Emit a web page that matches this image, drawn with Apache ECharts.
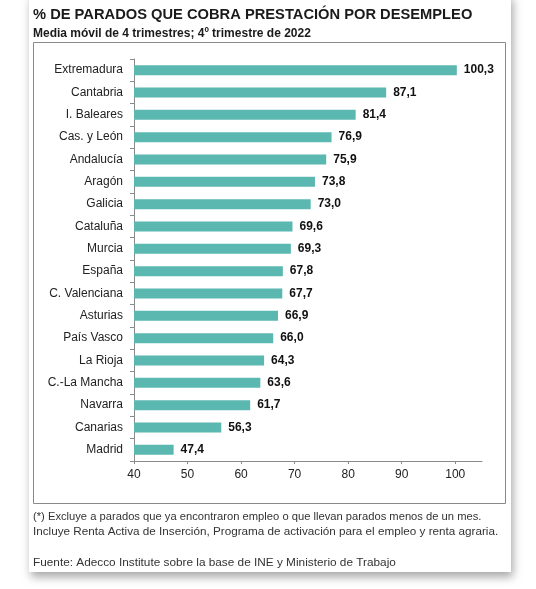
<!DOCTYPE html>
<html>
<head>
<meta charset="utf-8">
<script src="https://cdn.jsdelivr.net/npm/echarts@6/dist/echarts.min.js"></script>
<style>
  html, body { margin: 0; padding: 0; background: #fff; }
  #card {
    position: absolute; left: 29px; top: -6px; width: 482px; height: 578px;
    background: #fff; box-shadow: 2px 5px 9px rgba(0,0,0,0.35);
  }
  #chart { position: absolute; left: 0; top: 0; width: 536px; height: 589px; }
</style>
</head>
<body>
<div id="card"></div>
<div id="chart"></div>
<script>
// datos
const regiones = ['Extremadura', 'Cantabria', 'I. Baleares', 'Cas. y León', 'Andalucía', 'Aragón',
  'Galicia', 'Cataluña', 'Murcia', 'España', 'C. Valenciana', 'Asturias', 'País Vasco',
  'La Rioja', 'C.-La Mancha', 'Navarra', 'Canarias', 'Madrid'];
const porcentajes = [100.3, 87.1, 81.4, 76.9, 75.9, 73.8, 73.0, 69.6, 69.3, 67.8, 67.7, 66.9,
  66.0, 64.3, 63.6, 61.7, 56.3, 47.4];
const ejeMin = 40;
const ejeMax = 105;
const marcas = [40, 50, 60, 70, 80, 90, 100];

const titulo = '% DE PARADOS QUE COBRA PRESTACIÓN POR DESEMPLEO';
const subtitulo = 'Media móvil de 4 trimestres; 4º trimestre de 2022';
const notas = [
  '(*) Excluye a parados que ya encontraron empleo o que llevan parados menos de un mes.',
  'Incluye Renta Activa de Inserción, Programa de activación para el empleo y renta agraria.',
  'Fuente: Adecco Institute sobre la base de INE y Ministerio de Trabajo'
];

const fuente = 'Arial, "Liberation Sans", sans-serif';
const chart = echarts.init(document.getElementById('chart'));

chart.setOption({
  animation: false,
  textStyle: { fontFamily: fuente },
  title: [
    {
      text: titulo, left: 33, top: 7, padding: 0,
      textStyle: { fontSize: 14.7, fontWeight: 'bold', color: '#1a1a1a', fontFamily: fuente }
    },
    {
      text: subtitulo, left: 33, top: 28, padding: 0,
      textStyle: { fontSize: 12, fontWeight: 'bold', color: '#1a1a1a', fontFamily: fuente }
    }
  ],
  graphic: [
    {
      type: 'rect', z: -1, silent: true,
      shape: { x: 33.5, y: 42.5, width: 472, height: 461 },
      style: { fill: 'none', stroke: '#8a8a8a', lineWidth: 1 }
    },
    {
      type: 'text', left: 33, top: 511,
      style: { text: notas[0], fontSize: 11.2, fill: '#333', fontFamily: fuente }
    },
    {
      type: 'text', left: 33, top: 526,
      style: { text: notas[1], fontSize: 11.7, fill: '#333', fontFamily: fuente }
    },
    {
      type: 'text', left: 33, top: 557,
      style: { text: notas[2], fontSize: 11.8, fill: '#333', fontFamily: fuente }
    }
  ],
  grid: { left: 134, right: 54, top: 59, bottom: 128, containLabel: false },
  xAxis: {
    type: 'value',
    min: ejeMin, max: ejeMax,
    splitLine: { show: false },
    axisLine: { show: true, lineStyle: { color: '#8a8a8a' } },
    axisTick: { show: true, length: 3, customValues: marcas, lineStyle: { color: '#8a8a8a' } },
    axisLabel: { color: '#222', fontSize: 12, margin: 8, customValues: marcas }
  },
  yAxis: {
    type: 'category',
    inverse: true,
    data: regiones,
    axisLine: { show: true, lineStyle: { color: '#8a8a8a' } },
    axisTick: { show: true, length: 4, lineStyle: { color: '#8a8a8a' } },
    axisLabel: { color: '#222', fontSize: 12, margin: 11 }
  },
  series: [{
    type: 'bar',
    data: porcentajes,
    barWidth: 10,
    itemStyle: { color: '#5ab8b0' },
    label: {
      show: true, position: 'right', distance: 7,
      color: '#111', fontSize: 12, fontWeight: 'bold',
      formatter: p => p.value.toFixed(1).replace('.', ',')
    }
  }]
});
</script>
</body>
</html>
